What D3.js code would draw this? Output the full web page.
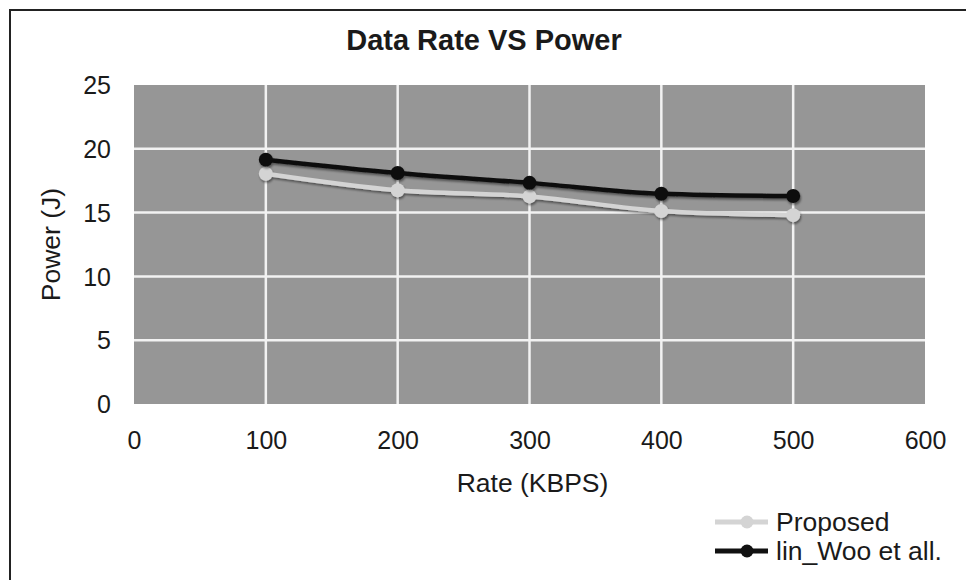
<!DOCTYPE html>
<html>
<head>
<meta charset="utf-8">
<script src="https://cdn.jsdelivr.net/npm/d3@7"></script>
<style>
html,body{margin:0;padding:0;background:#fff;}
svg{display:block;}
text{font-family:"Liberation Sans",Arial,sans-serif;fill:#1a1a1a;}
</style>
</head>
<body>
<svg id="chart" width="966" height="580"></svg>
<script>
const rates = [100, 200, 300, 400, 500];
const proposed = [18.05, 16.75, 16.27, 15.13, 14.8];
const linWoo = [19.15, 18.1, 17.33, 16.48, 16.3];
const xTicks = [0, 100, 200, 300, 400, 500, 600];
const yTicks = [0, 5, 10, 15, 20, 25];
const seriesNames = ["Proposed", "lin_Woo et all."];

const svg = d3.select("#chart");
const plot = {left: 134, right: 925, top: 85, bottom: 404};

const defs = svg.append("defs");
const f = defs.append("filter").attr("id", "shadow").attr("x", "-10%").attr("y", "-50%").attr("width", "120%").attr("height", "200%");
f.append("feDropShadow").attr("dx", 1).attr("dy", 2).attr("stdDeviation", 1.2).attr("flood-color", "#000").attr("flood-opacity", 0.45);

// outer frame
svg.append("rect").attr("x", 10).attr("y", 10).attr("width", 1000).attr("height", 700)
  .attr("fill", "#fff").attr("stroke", "#222").attr("stroke-width", 2);

const x = d3.scaleLinear().domain([0, 600]).range([plot.left, plot.right]);
const y = d3.scaleLinear().domain([0, 25]).range([plot.bottom, plot.top]);

svg.append("rect").attr("x", plot.left).attr("y", plot.top)
  .attr("width", plot.right - plot.left).attr("height", plot.bottom - plot.top)
  .attr("fill", "#969696");

// grid
svg.append("g").selectAll("line").data(xTicks.slice(1, -1)).join("line")
  .attr("x1", d => x(d)).attr("x2", d => x(d)).attr("y1", plot.top).attr("y2", plot.bottom)
  .attr("stroke", "#f2f2f2").attr("stroke-width", 2.5);
svg.append("g").selectAll("line").data(yTicks.slice(1, -1)).join("line")
  .attr("x1", plot.left).attr("x2", plot.right).attr("y1", d => y(d)).attr("y2", d => y(d))
  .attr("stroke", "#f2f2f2").attr("stroke-width", 2.5);

// axes (labels only)
const xAxis = svg.append("g").attr("transform", `translate(0,${plot.bottom + 27})`)
  .call(d3.axisBottom(x).tickValues(xTicks).tickSize(0).tickPadding(0));
xAxis.select(".domain").remove();
xAxis.selectAll("text").attr("font-size", 25).attr("dy", "0.71em").style("font-family", "'Liberation Sans',Arial,sans-serif").attr("fill", "#1a1a1a");

const yAxis = svg.append("g").attr("transform", `translate(${plot.left - 23},0)`)
  .call(d3.axisLeft(y).tickValues(yTicks).tickSize(0).tickPadding(0));
yAxis.select(".domain").remove();
yAxis.selectAll("text").attr("font-size", 25).attr("dy", "0.35em").style("font-family", "'Liberation Sans',Arial,sans-serif").attr("fill", "#1a1a1a");

// title
svg.append("text").attr("x", 484).attr("y", 50).attr("text-anchor", "middle")
  .attr("font-size", 29).attr("font-weight", "bold").text("Data Rate VS Power");

svg.append("text").attr("x", (plot.left + plot.right) / 2 + 3).attr("y", 492).attr("text-anchor", "middle")
  .attr("font-size", 26.5).text("Rate (KBPS)");

svg.append("text").attr("transform", `translate(60,${(plot.top + plot.bottom) / 2}) rotate(-90)`)
  .attr("text-anchor", "middle").attr("font-size", 26.5).text("Power (J)");

// series
const series = [
  {name: seriesNames[0], values: proposed, color: "#d4d4d4"},
  {name: seriesNames[1], values: linWoo, color: "#111111"}
];
const line = d3.line().x((d, i) => x(rates[i])).y(d => y(d)).curve(d3.curveMonotoneX);

series.forEach(s => {
  const g = svg.append("g").attr("filter", "url(#shadow)");
  g.append("path").attr("d", line(s.values)).attr("fill", "none")
    .attr("stroke", s.color).attr("stroke-width", 4.5).attr("stroke-linejoin", "round");
  g.selectAll("circle").data(s.values).join("circle")
    .attr("cx", (d, i) => x(rates[i])).attr("cy", d => y(d)).attr("r", 7).attr("fill", s.color);
});

// legend
const legY = [522, 551];
series.forEach((s, i) => {
  const g = svg.append("g");
  g.append("line").attr("x1", 715).attr("x2", 768).attr("y1", legY[i]).attr("y2", legY[i])
    .attr("stroke", s.color).attr("stroke-width", 5);
  g.append("circle").attr("cx", 747).attr("cy", legY[i]).attr("r", 6.5).attr("fill", s.color);
  g.append("text").attr("x", 776).attr("y", legY[i]).attr("dy", "0.35em")
    .attr("font-size", 26.5).text(s.name);
});
</script>
</body>
</html>
